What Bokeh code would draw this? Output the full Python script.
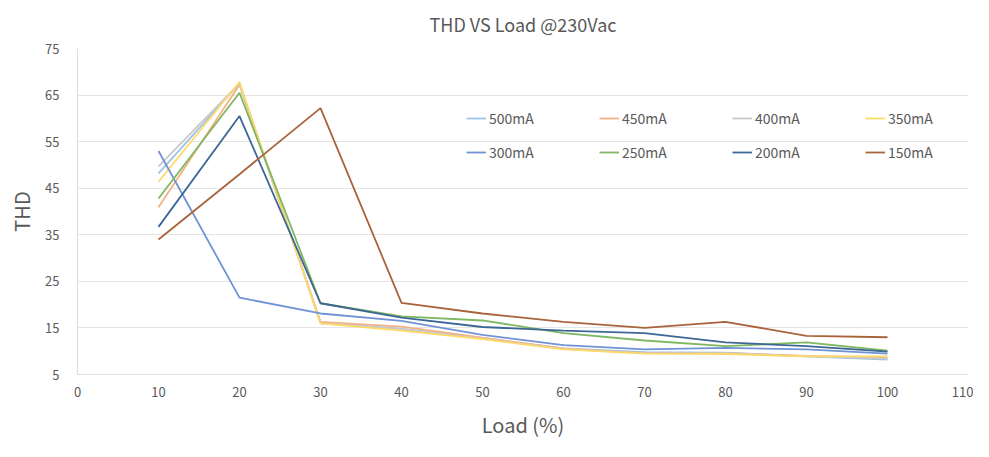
from bokeh.plotting import figure
from bokeh.models import Legend, LegendItem, FixedTicker, Range1d
from bokeh.embed import file_html
from bokeh.resources import INLINE

load = [10, 20, 30, 40, 50, 60, 70, 80, 90, 100]
series_names = ["500mA", "450mA", "400mA", "350mA", "300mA", "250mA", "200mA", "150mA"]
thd_500 = [48.2, 67.5, 16.2, 14.8, 12.8, 10.6, 9.8, 9.7, 8.9, 8.2]
thd_450 = [40.9, 67.2, 16.3, 15.3, 12.9, 10.6, 9.6, 9.6, 9.0, 8.6]
thd_400 = [49.7, 67.5, 16.0, 14.8, 12.7, 10.5, 9.6, 9.6, 8.9, 8.4]
thd_350 = [46.4, 67.8, 16.0, 14.4, 12.6, 10.4, 9.5, 9.4, 8.9, 8.9]
thd_300 = [53.0, 21.5, 18.1, 16.5, 13.5, 11.3, 10.4, 10.7, 10.4, 9.5]
thd_250 = [42.8, 65.5, 20.3, 17.5, 16.6, 13.9, 12.3, 11.1, 11.9, 10.1]
thd_200 = [36.7, 60.5, 20.3, 17.2, 15.2, 14.4, 13.9, 11.9, 11.1, 9.9]
thd_150 = [34.0, 48.0, 62.2, 20.4, 18.1, 16.3, 15.0, 16.3, 13.3, 13.0]
series_values = [thd_500, thd_450, thd_400, thd_350, thd_300, thd_250, thd_200, thd_150]
colors = ["#9dc3e6", "#f4b183", "#c9c9c9", "#ffd966", "#6f93d4", "#7fb762", "#3d6796", "#a8643a"]
x_ticks = [0, 10, 20, 30, 40, 50, 60, 70, 80, 90, 100, 110]
y_ticks = [5, 15, 25, 35, 45, 55, 65, 75]

FONT = "Noto Sans CJK SC"
GREY = "#595959"

p = figure(width=973, height=441, output_backend="svg", toolbar_location=None,
           x_range=Range1d(0, 110), y_range=Range1d(5, 75),
           min_border_left=77, min_border_right=5, min_border_top=48, min_border_bottom=60,
           title="THD VS Load @230Vac")
p.outline_line_color = None
p.title.align = "center"
p.title.vertical_align = "top"
p.title.text_font = FONT
p.title.text_font_size = "18px"
p.title.text_font_style = "normal"
p.title.text_color = GREY
p.title.standoff = 20

items = []
for name, vals, col in zip(series_names, series_values, colors):
    r = p.line(load, vals, line_color=col, line_width=1.8)
    items.append(LegendItem(label=name, renderers=[r]))

p.xaxis.ticker = FixedTicker(ticks=x_ticks)
p.yaxis.ticker = FixedTicker(ticks=y_ticks)
p.xgrid.grid_line_color = None
p.ygrid.grid_line_color = "#e5e5e5"
p.ygrid.grid_line_width = 1.2
for ax in (p.xaxis[0], p.yaxis[0]):
    ax.axis_line_color = "#e0e0e0"
    ax.axis_line_width = 1.2
    ax.major_tick_line_color = None
    ax.minor_tick_line_color = None
    ax.major_label_text_font = FONT
    ax.major_label_text_font_size = "13px"
    ax.major_label_text_color = GREY
    ax.axis_label_text_font = FONT
    ax.axis_label_text_font_size = "20px"
    ax.axis_label_text_font_style = "normal"
    ax.axis_label_text_color = GREY
p.xaxis.axis_label = "Load (%)"
p.yaxis.axis_label = "THD"
p.xaxis.major_label_standoff = 6
p.yaxis.major_label_standoff = 12
p.xaxis.axis_label_standoff = 10
p.yaxis.axis_label_standoff = 6

legend = Legend(items=items, location=(389, 212), orientation="horizontal", ncols=4,
                glyph_width=20, label_standoff=3, label_width=96, spacing=14,
                padding=0, margin=0, border_line_color=None, background_fill_alpha=0,
                label_text_font=FONT, label_text_font_size="14px", label_text_color=GREY)
p.add_layout(legend, "center")

open("out.html", "w").write(file_html(p, INLINE))
